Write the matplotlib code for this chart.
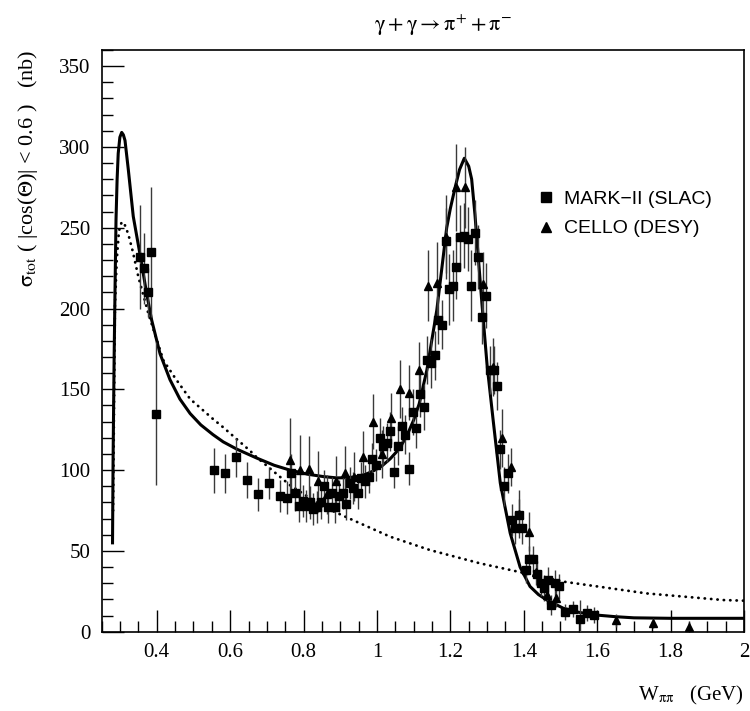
import matplotlib
matplotlib.use("Agg")
import matplotlib.pyplot as plt
from matplotlib.ticker import MultipleLocator
from matplotlib.lines import Line2D

plt.rcParams['font.family'] = ['Liberation Serif', 'DejaVu Serif']
plt.rcParams['mathtext.fontset'] = 'stix'

# ---- MARK-II (SLAC) data: W (GeV), sigma (nb), error ----
mark_w = [0.355, 0.366, 0.376, 0.385, 0.397,
          0.556, 0.585, 0.617, 0.645, 0.676, 0.705, 0.736, 0.756, 0.766, 0.777,
          0.787, 0.798, 0.807, 0.818, 0.827, 0.836, 0.847, 0.856, 0.866, 0.877,
          0.886, 0.897, 0.907, 0.915, 0.927, 0.936, 0.947, 0.956, 0.967, 0.978,
          0.987, 0.996, 1.007, 1.016, 1.028, 1.036, 1.047, 1.056, 1.067, 1.077,
          1.087, 1.097, 1.107, 1.117, 1.127, 1.136, 1.147, 1.157, 1.167, 1.176,
          1.188, 1.196, 1.206, 1.216, 1.227, 1.237, 1.249, 1.256, 1.267, 1.274,
          1.287, 1.296, 1.308, 1.319, 1.327, 1.336, 1.346, 1.357, 1.367, 1.376,
          1.387, 1.396, 1.406, 1.415, 1.426, 1.437, 1.447, 1.456, 1.467, 1.475,
          1.485, 1.496, 1.513, 1.533, 1.552, 1.572, 1.592]
mark_s = [232, 225, 210, 235, 135,
          100, 98, 108, 94, 85, 92, 84, 83, 98, 86,
          78, 81, 78, 80, 76, 77, 80, 90, 77, 86,
          77, 84, 86, 79, 92, 89, 86, 95, 93, 96,
          107, 103, 120, 115, 117, 124, 99, 115, 127, 122,
          101, 136, 126, 147, 139, 168, 166, 171, 193, 190,
          242, 212, 214, 226, 244, 245, 243, 214, 247, 232,
          195, 208, 162, 162, 152, 113, 90, 98, 69, 64,
          72, 64, 38, 45, 45, 36, 30, 27, 32, 16.5,
          30, 28, 12.4, 13.9, 7.9, 11.8, 10.3]
mark_e = [32, 22, 15, 40, 44,
          14, 12, 12, 11, 10, 10, 10, 10, 12, 11,
          10, 10, 10, 10, 10, 10, 10, 10, 10, 10,
          10, 10, 10, 10, 10, 10, 10, 10, 10, 10,
          10, 10, 12, 12, 12, 12, 10, 12, 12, 12,
          10, 14, 12, 14, 14, 15, 15, 15, 15, 15,
          20, 22, 22, 20, 20, 20, 20, 22, 20, 20,
          17, 20, 15, 15, 15, 12, 12, 12, 10, 10,
          10, 10, 8, 8, 8, 8, 8, 8, 8, 6,
          8, 8, 5, 5, 12, 5, 5]

# ---- CELLO (DESY) data ----
cello_w = [0.763, 0.789, 0.814, 0.838, 0.863, 0.889, 0.914, 0.938, 0.963, 0.989,
           1.015, 1.039, 1.063, 1.088, 1.114, 1.139, 1.163, 1.188, 1.214, 1.239,
           1.288, 1.316, 1.340, 1.365, 1.388, 1.415, 1.434, 1.463, 1.488,
           1.651, 1.751, 1.851]
cello_s = [106, 100, 101, 93, 85, 93, 98, 96, 108, 130,
           110, 132, 150, 148, 162, 214, 216, 244, 275, 275,
           215, 164, 120, 102, 73, 62, 37, 23, 21,
           7.2, 5.2, 3.1]
cello_e = [26, 22, 20, 19, 12, 16, 17, 15, 16, 17,
           15, 16, 18, 17, 17, 22, 25, 26, 27, 25,
           20, 18, 18, 12, 15, 12, 8, 6, 6,
           4, 3, 3]

# ---- model curves ----
solid_w = [0.2795, 0.281, 0.2825, 0.284, 0.2865, 0.289, 0.292, 0.295, 0.2995,
           0.3045, 0.309, 0.3135, 0.3225, 0.336, 0.354, 0.3727, 0.386, 0.409,
           0.436, 0.463, 0.491, 0.52, 0.553, 0.581, 0.618, 0.672, 0.72, 0.763,
           0.81, 0.854, 0.89, 0.92, 0.945, 0.97, 0.99, 1.013, 1.036, 1.06,
           1.081, 1.10, 1.115, 1.136, 1.163, 1.19, 1.20, 1.213, 1.225, 1.238,
           1.25, 1.258, 1.267, 1.286, 1.30, 1.317, 1.336, 1.363, 1.39, 1.417,
           1.44, 1.463, 1.508, 1.55, 1.599, 1.65, 1.70, 1.80, 2.0]
solid_s = [55, 106, 140, 172, 215, 255, 280, 296, 306,
           309, 307.5, 304, 286, 257, 234, 209, 193, 172,
           156, 144, 135, 128, 122, 117.5, 113, 107.5, 103, 100,
           97.5, 96, 95.2, 95.3, 96, 97.5, 99.5, 102.5, 107, 113,
           121, 131, 141, 162, 199, 250, 262, 275, 286, 293,
           288, 280, 258, 203, 165, 130, 92, 61, 40, 28,
           23, 19.6, 14.5, 12, 10.3, 9.3, 8.6, 8.3, 8.3]

dot_w = [0.281, 0.286, 0.291, 0.297, 0.3045, 0.3125, 0.3225, 0.335, 0.35,
         0.377, 0.418, 0.45, 0.491, 0.554, 0.581, 0.654, 0.672, 0.763, 0.854,
         0.945, 1.036, 1.145, 1.281, 1.508, 1.735, 1.944, 2.0]
dot_s = [75, 201, 230, 248, 253.6, 252, 246, 235, 219.5,
         197, 168, 157, 144, 131.5, 126.5, 112, 108, 90.7, 77.3,
         68, 58.8, 50.5, 42.3, 31, 23.7, 19.6, 19.2]

title_text = r'$\mathrm{\gamma + \gamma \rightarrow \pi^{+} + \pi^{-}}$'
ylabel_text = r'$\mathrm{\sigma_{tot}}$ ( |cos($\mathrm{\Theta}$)| < 0.6 )   (nb)'
xlabel_text = r'W$_{\mathrm{\pi\pi}}$   (GeV)'
legend_labels = ['MARK\u2212II (SLAC)', 'CELLO (DESY)']

fig = plt.figure(figsize=(7.5, 7.11), dpi=100)
ax = fig.add_axes([0.1356, 0.1115, 0.8564, 0.8182])

ax.plot(dot_w, dot_s, color='black', lw=2.0, linestyle=(0, (0.1, 2.2)),
        dash_capstyle='round')
ax.plot(solid_w, solid_s, color='black', lw=2.2, solid_joinstyle='round')

ax.errorbar(mark_w, mark_s, yerr=mark_e, fmt='s', color='black', ecolor='#3a3a3a',
            elinewidth=1.0, capsize=0, markersize=5.2, zorder=3)
ax.errorbar(cello_w, cello_s, yerr=cello_e, fmt='^', color='black', ecolor='#3a3a3a',
            elinewidth=1.0, capsize=0, markersize=5.6, zorder=3)

ax.set_xlim(0.25, 2.0)
ax.set_ylim(0, 360)
ax.xaxis.set_minor_locator(MultipleLocator(0.05))
ax.yaxis.set_major_locator(MultipleLocator(50))
ax.yaxis.set_minor_locator(MultipleLocator(10))
ax.set_xticks([0.4, 0.6, 0.8, 1.0, 1.2, 1.4, 1.6, 1.8, 2.0])
ax.set_xticklabels(['0.4', '0.6', '0.8', '1', '1.2', '1.4', '1.6', '1.8', '2'])
ax.tick_params(which='both', direction='in', top=False, right=False,
               labelsize=15, width=1.0)
ax.tick_params(which='major', length=16, pad=8)
ax.tick_params(which='minor', length=8)
for sp in ax.spines.values():
    sp.set_linewidth(1.2)

ax.set_ylabel(ylabel_text, fontsize=16, loc='top', labelpad=14)
ax.set_xlabel(xlabel_text, fontsize=15, loc='right', labelpad=16)
fig.text(0.59, 0.965, title_text, fontsize=16, ha='center', va='center')

handles = [Line2D([], [], marker='s', color='black', linestyle='none', markersize=7),
           Line2D([], [], marker='^', color='black', linestyle='none', markersize=7.5)]
leg = ax.legend(handles, legend_labels, loc='upper left', bbox_to_anchor=(0.665, 0.775),
                frameon=False, handlelength=0.8, handletextpad=0.5, labelspacing=0.6,
                borderpad=0, prop={'family': 'Liberation Sans', 'size': 14})

fig.savefig('out.png', dpi=100)
